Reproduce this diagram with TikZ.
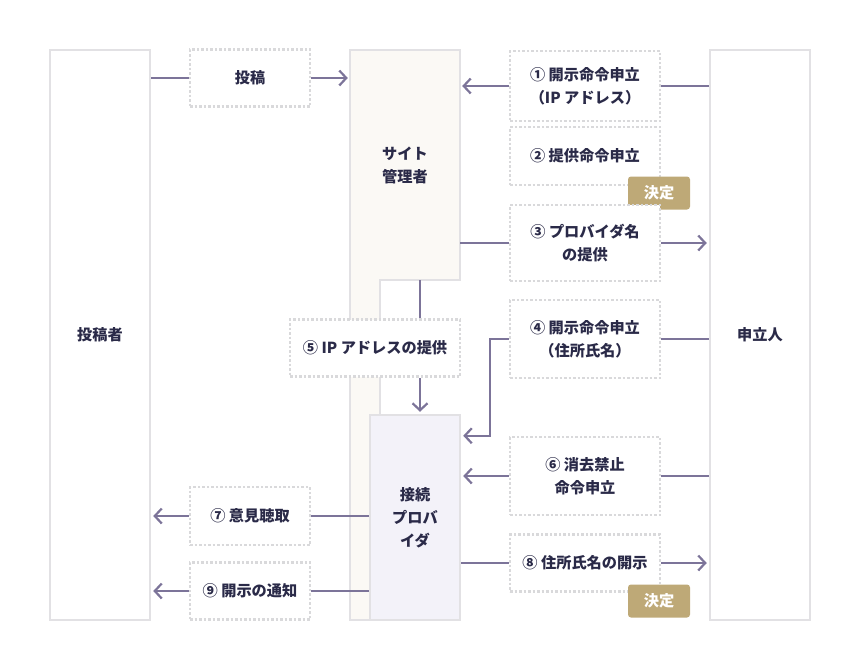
\documentclass[tikz,border=0pt]{standalone}
\usepackage{fontspec}
\setmainfont{Noto Sans CJK JP}
\usetikzlibrary{arrows.meta,calc}
\definecolor{linegray}{HTML}{E2E1E4}
\definecolor{dotgray}{HTML}{D9D9DB}
\definecolor{arrowpurple}{HTML}{7C7499}
\definecolor{sitefill}{HTML}{FBF9F5}
\definecolor{provfill}{HTML}{F3F2F9}
\definecolor{gold}{HTML}{BEA977}
\definecolor{ink}{HTML}{2A2A48}

\begin{document}
\begin{tikzpicture}[x=1pt,y=-1pt,
    every node/.style={text=ink,font=\bfseries\fontsize{15.2}{23}\selectfont},
    lane/.style={draw=linegray,line width=2.5pt,fill=white,inner sep=0pt,minimum width=100pt,minimum height=570pt},
    stepbox/.style={draw=dotgray,line width=2.5pt,dash pattern=on 2.5pt off 2pt,fill=white,inner sep=0pt,align=center,minimum width=150pt},
    tag/.style={fill=gold,rounded corners=3pt,text=white,minimum width=62pt,minimum height=33pt,inner sep=0pt},
    flow/.style={draw=arrowpurple,line width=2.5pt},
    flowto/.style={flow,shorten >=2pt,-{Straight Barb[length=7pt,width=15pt,line width=2.2pt]}}]
    \useasboundingbox (0,0) rectangle (860,670);
    % the three parties
    \node[lane] (poster) at (100,335) {投稿者};
    \node[lane] (applicant) at (760,335) {申立人};
    \draw[linegray,line width=2.5pt,fill=sitefill] (350,50) -- (460,50) -- (460,280) -- (380,280) -- (380,620) -- (350,620) -- cycle;
    \node[minimum width=110pt,minimum height=230pt,inner sep=0pt,align=center] (site) at (405,165) {サイト\\管理者};
    \node[draw=linegray,line width=2.5pt,fill=provfill,minimum width=90pt,minimum height=205pt,inner sep=0pt,align=center] (provider) at (415,517.5) {接続\\プロバ\\イダ};
    % steps
    \node[stepbox,minimum width=120pt,minimum height=57pt] (post) at (250,78) {投稿};
    \node[stepbox,minimum height=70pt] (s1) at (585,86) {① 開示命令申立\\（IP アドレス）};
    \node[stepbox,minimum height=58pt] (s2) at (585,156) {② 提供命令申立};
    \node[tag] (tag1) at (659,193) {決定};
    \node[stepbox,minimum height=76pt] (s3) at (585,243) {③ プロバイダ名\\の提供};
    \node[stepbox,minimum height=78pt] (s4) at (585,339) {④ 開示命令申立\\（住所氏名）};
    \node[stepbox,minimum width=170pt,minimum height=57pt] (s5) at (375,348) {⑤ IP アドレスの提供};
    \node[stepbox,minimum height=78pt] (s6) at (585,476) {⑥ 消去禁止\\命令申立};
    \node[stepbox,minimum width=120pt,minimum height=58pt] (s7) at (250,516) {⑦ 意見聴取};
    \node[stepbox,minimum height=57pt] (s8) at (585,563) {⑧ 住所氏名の開示};
    \node[tag] (tag2) at (659,601) {決定};
    \node[stepbox,minimum width=120pt,minimum height=57pt] (s9) at (250,591) {⑨ 開示の通知};
    \coordinate (drop5) at (420,300);
    \coordinate (bend4) at (490,339);
    \coordinate (in4) at ($(provider.north east)+(0,22)$);
    % connectors
    \draw[flow] (poster.east |- post.west) -- (post.west);
    \draw[flowto] (post.east) -- (post.east -| site.west);
    \draw[flow] (applicant.west |- s1.east) -- (s1.east);
    \draw[flowto] (s1.west) -- (s1.west -| site.east);
    \draw[flow] (site.east |- s3.west) -- (s3.west);
    \draw[flowto] (s3.east) -- (s3.east -| applicant.west);
    \draw[flow] (site.south -| drop5) -- (s5.north -| drop5);
    \draw[flowto] (s5.south -| drop5) -- (provider.north -| drop5);
    \draw[flow] (applicant.west |- s4.east) -- (s4.east);
    \draw[flowto] (s4.west) -- (bend4) -- (bend4 |- in4) -- (in4);
    \draw[flow] (applicant.west |- s6.east) -- (s6.east);
    \draw[flowto] (s6.west) -- (s6.west -| provider.east);
    \draw[flow] (provider.west |- s7.east) -- (s7.east);
    \draw[flowto] (s7.west) -- (s7.west -| poster.east);
    \draw[flow] (provider.east |- s8.west) -- (s8.west);
    \draw[flowto] (s8.east) -- (s8.east -| applicant.west);
    \draw[flow] (provider.west |- s9.east) -- (s9.east);
    \draw[flowto] (s9.west) -- (s9.west -| poster.east);
\end{tikzpicture}
\end{document}
